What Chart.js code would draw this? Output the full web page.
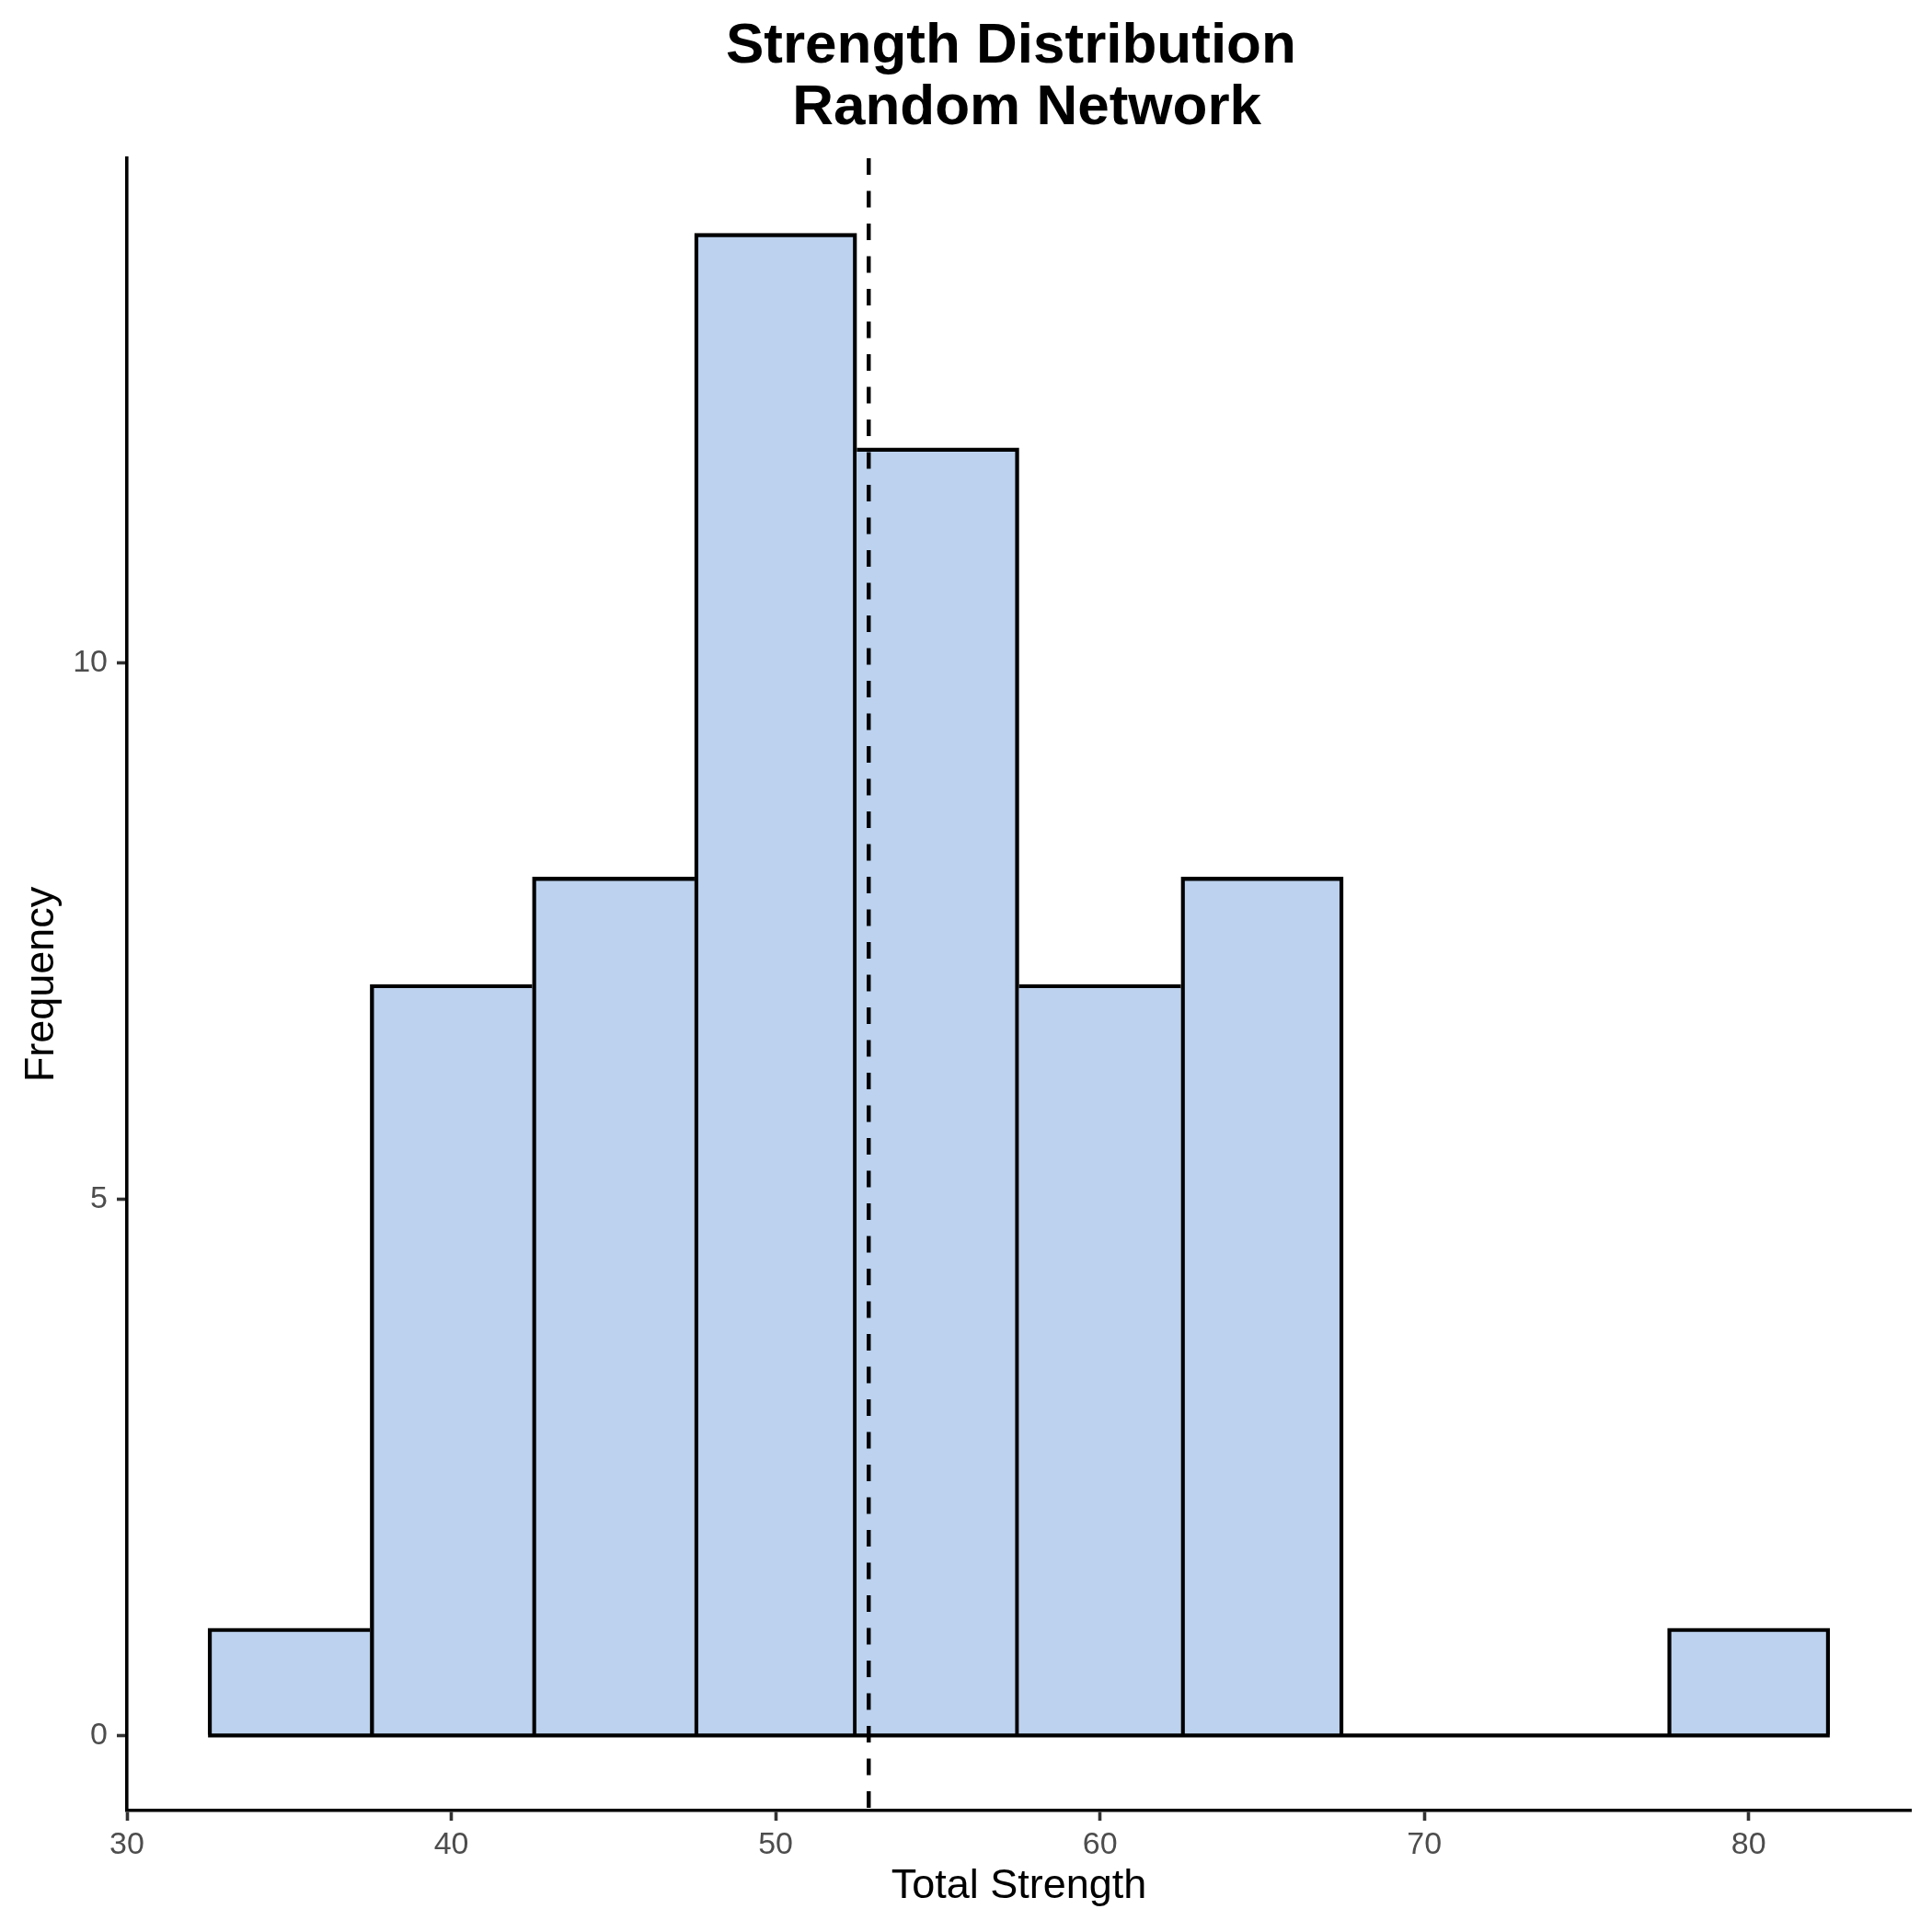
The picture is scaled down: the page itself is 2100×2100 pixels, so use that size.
<!DOCTYPE html>
<html>
<head>
<meta charset="utf-8">
<title>Strength Distribution</title>
<script src="https://cdn.jsdelivr.net/npm/chart.js@4.4.1/dist/chart.umd.min.js"></script>
<style>
  html, body { margin: 0; padding: 0; background: #ffffff; }
  #chart { display: block; }
</style>
</head>
<body>
<canvas id="chart" width="2100" height="2100"></canvas>
<script>
// histogram bins (width 5) and counts
const binCenters = [35, 40, 45, 50, 55, 60, 65, 70, 75, 80];
const binCounts = [1, 7, 8, 14, 12, 7, 8, 0, 0, 1];
const binWidth = 5;
const meanStrength = 52.87;

const xTicks = [30, 40, 50, 60, 70, 80];
const yTicks = [0, 5, 10];
const xRange = [30, 85];
const yRange = [-0.7, 14.7];

const FONT = "'Liberation Sans', Arial, Helvetica, sans-serif";
const EDGE = 4.4;

// ggplot draws one stroke per shared edge; give it to the taller bar
function barBorder(ctx) {
  const i = ctx.dataIndex;
  const here = binCounts[i];
  const prev = i > 0 ? binCounts[i - 1] : 0;
  const next = i < binCounts.length - 1 ? binCounts[i + 1] : 0;
  return {
    top: EDGE,
    bottom: 0,
    left: here > prev ? EDGE : 0,
    right: here >= next ? EDGE : 0,
  };
}

const firstEdge = binCenters[0] - binWidth / 2;
const lastEdge = binCenters[binCenters.length - 1] + binWidth / 2;

const ctx = document.getElementById("chart");
new Chart(ctx, {
  type: "bar",
  data: {
    datasets: [
      {
        type: "line",
        label: "mean",
        data: [
          { x: meanStrength, y: yRange[1] },
          { x: meanStrength, y: yRange[0] },
        ],
        borderColor: "#000000",
        borderWidth: 4.4,
        borderDash: [18, 17.5],
        pointRadius: 0,
        fill: false,
        order: 0,
      },
      {
        type: "line",
        label: "baseline",
        data: [
          { x: firstEdge, y: 0 },
          { x: lastEdge, y: 0 },
        ],
        borderColor: "#000000",
        borderWidth: 4.4,
        pointRadius: 0,
        fill: false,
        order: 1,
      },
      {
        label: "Frequency",
        data: binCenters.map((x, i) => ({ x, y: binCounts[i] })),
        backgroundColor: "#BCD2EE",
        borderColor: "#000000",
        borderWidth: barBorder,
        borderSkipped: false,
        barPercentage: 1,
        categoryPercentage: 1,
        order: 2,
      },
    ],
  },
  options: {
    responsive: false,
    animation: false,
    devicePixelRatio: 1,
    layout: { padding: { top: 0, left: 0, bottom: 0, right: 23 } },
    plugins: {
      legend: { display: false },
      tooltip: { enabled: false },
      title: {
        display: true,
        fullSize: false,
        text: ["Strength Distribution ", " Random Network"],
        color: "#000000",
        font: { family: FONT, size: 62, weight: "bold", lineHeight: 67 / 62 },
        padding: { top: 17, bottom: 21 },
      },
    },
    scales: {
      x: {
        type: "linear",
        min: xRange[0],
        max: xRange[1],
        offset: false,
        afterBuildTicks: (scale) => {
          scale.ticks = xTicks.map((v) => ({ value: v }));
        },
        afterFit: (scale) => {
          scale.height = 132;
        },
        border: { display: true, color: "#000000", width: 3.6 },
        grid: {
          display: true,
          offset: false,
          drawOnChartArea: false,
          drawTicks: true,
          tickLength: 11,
          tickWidth: 3.6,
          tickColor: "#333333",
        },
        ticks: {
          color: "#4D4D4D",
          font: { family: FONT, size: 34 },
          padding: 6,
          maxRotation: 0,
        },
        title: {
          display: true,
          text: "Total Strength",
          color: "#000000",
          font: { family: FONT, size: 45, lineHeight: 1 },
          padding: { top: 0, bottom: 27 },
        },
      },
      y: {
        type: "linear",
        min: yRange[0],
        max: yRange[1],
        afterBuildTicks: (scale) => {
          scale.ticks = yTicks.map((v) => ({ value: v }));
        },
        afterFit: (scale) => {
          scale.width = 138;
        },
        border: { display: true, color: "#000000", width: 3.6 },
        grid: {
          display: true,
          drawOnChartArea: false,
          drawTicks: true,
          tickLength: 11,
          tickWidth: 3.6,
          tickColor: "#333333",
        },
        ticks: {
          color: "#4D4D4D",
          font: { family: FONT, size: 34 },
          padding: 10,
        },
        title: {
          display: true,
          text: "Frequency",
          color: "#000000",
          font: { family: FONT, size: 45, lineHeight: 1 },
          padding: { top: 23, bottom: 0 },
        },
      },
    },
  },
});
</script>
</body>
</html>
